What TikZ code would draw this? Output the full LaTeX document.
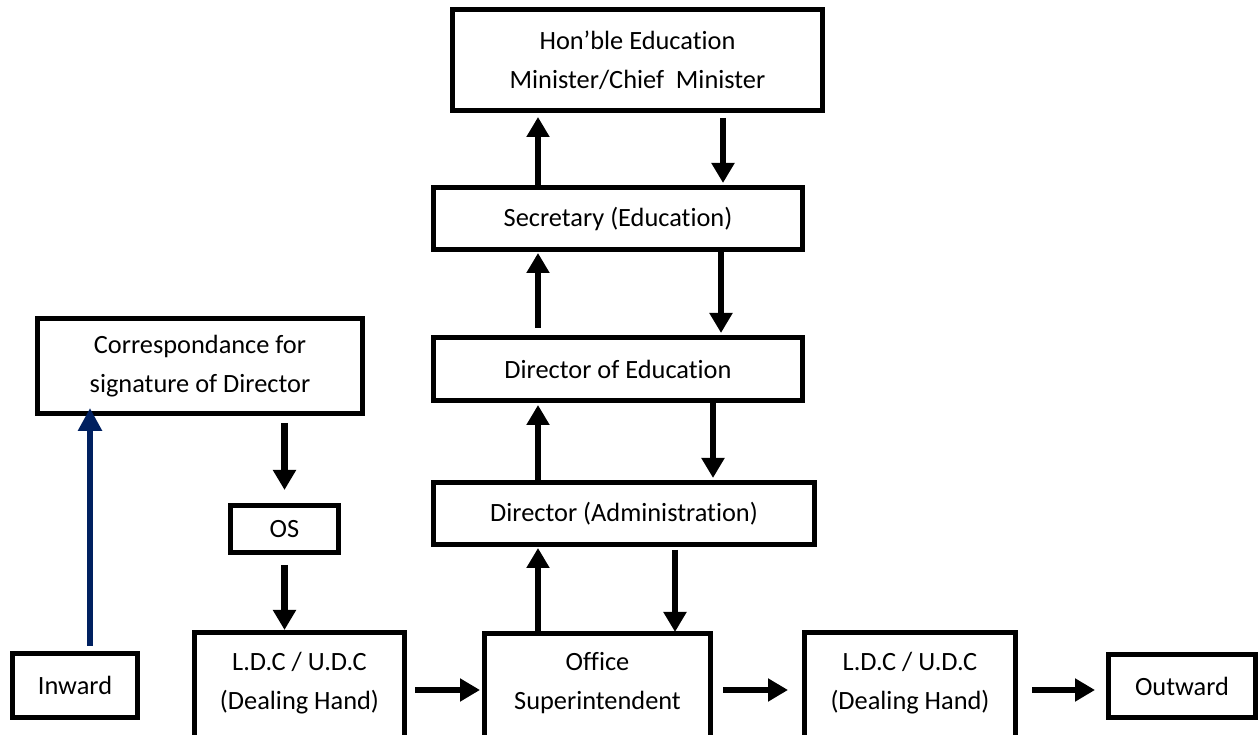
\documentclass[tikz,border=0pt]{standalone}
\usepackage{fontspec}
\setmainfont{Carlito}[Ligatures=NoCommon]
\usepackage{xcolor}
\usepackage{tikz}
\usetikzlibrary{arrows.meta}
\definecolor{inblue}{HTML}{002060}
\tikzset{box/.style={draw,line width=0.1cm,align=center,inner sep=0pt,outer sep=0pt,font=\fontsize{15}{22.2}\selectfont}}
\tikzset{open/.style={align=center,inner sep=0pt,outer sep=0pt,font=\fontsize{15}{22.2}\selectfont}}

\begin{document}
\begin{tikzpicture}[>={Triangle[width=0.44cm,length=0.4cm]},line width=0.13cm]
    \clip (0,0) rectangle (25.2,14.7);
    \node[box,minimum width=7.4cm,minimum height=2.02cm] (min) at (12.75,13.5) {Hon’ble Education\\Minister/Chief\ \ Minister};
    \node[box,minimum width=7.38cm,minimum height=1.24cm] (sec) at (12.36,10.33) {Secretary (Education)};
    \node[box,minimum width=7.38cm,minimum height=1.26cm] (doe) at (12.36,7.32) {Director of Education};
    \node[box,minimum width=7.62cm,minimum height=1.24cm] (adm) at (12.48,4.43) {Director (Administration)};
    \node[box,minimum width=6.5cm,minimum height=1.9cm] (cor) at (4.0,7.38) {Correspondance for\\signature of Director};
    \node[box,minimum width=2.16cm,minimum height=0.94cm] (os) at (5.69,4.12) {OS};
    \node[box,minimum width=2.5cm,minimum height=1.28cm] (inw) at (1.5,0.99) {Inward};
    \node[box,minimum width=2.94cm,minimum height=1.26cm] (outw) at (23.64,0.98) {Outward};
    \node[open,minimum width=4.2cm,minimum height=2.04cm] (ldca) at (5.99,1.03) {L.D.C / U.D.C\\(Dealing Hand)};
    \node[open,minimum width=4.52cm,minimum height=2.0cm] (supt) at (11.95,1.03) {Office\\Superintendent};
    \node[open,minimum width=4.22cm,minimum height=2.04cm] (ldcb) at (18.2,1.03) {L.D.C / U.D.C\\(Dealing Hand)};

    % bottom row runs off the page
    \foreach \b in {ldca,supt,ldcb}
        \draw[line width=0.1cm] ([yshift=-5mm]\b.south west) -- (\b.north west) -- (\b.north east) -- ([yshift=-5mm]\b.south east);

    \coordinate (upcol) at (10.76,0);
    \coordinate (dn1) at (14.46,0);
    \coordinate (dn2) at (14.42,0);
    \coordinate (dn3) at (14.26,0);
    \coordinate (dn4) at (13.5,0);
    \coordinate (lcol) at (5.69,0);
    \coordinate (bcol) at (1.8,0);
    \coordinate (row) at (0,0.9);

    \draw [->,shorten >=0.13cm] (sec.north -| upcol) to (min.south -| upcol);
    \draw [->,shorten <=0.15cm,shorten >=0.09cm] (min.south -| dn1) to (sec.north -| dn1);
    \draw [->,shorten <=0.19cm,shorten >=0.07cm] (doe.north -| upcol) to (sec.south -| upcol);
    \draw [->,shorten >=0.09cm] (sec.south -| dn2) to (doe.north -| dn2);
    \draw [->,shorten >=0.09cm] (adm.north -| upcol) to (doe.south -| upcol);
    \draw [->,shorten >=0.09cm] (doe.south -| dn3) to (adm.north -| dn3);
    \draw [->,shorten >=0.07cm] (supt.north -| upcol) to (adm.south -| upcol);
    \draw [->,shorten <=0.11cm,shorten >=0.03cm] (adm.south -| dn4) to (supt.north -| dn4);

    \draw [->,shorten <=0.19cm,shorten >=0.31cm] (cor.south -| lcol) to (os.north -| lcol);
    \draw [->,shorten <=0.25cm,shorten >=0.05cm] (os.south -| lcol) to (ldca.north -| lcol);
    \draw [-{Triangle[width=0.46cm,length=0.46cm]},inblue,shorten <=0.15cm,shorten >=-0.11cm] (inw.north -| bcol) to (cor.south -| bcol);

    \draw [->,shorten <=0.21cm,shorten >=0.09cm] (ldca.east |- row) to (supt.west |- row);
    \draw [->,shorten <=0.25cm,shorten >=0.33cm] (supt.east |- row) to (ldcb.west |- row);
    \draw [->,shorten <=0.33cm,shorten >=0.27cm] (ldcb.east |- row) to (outw.west |- row);
\end{tikzpicture}
\end{document}
